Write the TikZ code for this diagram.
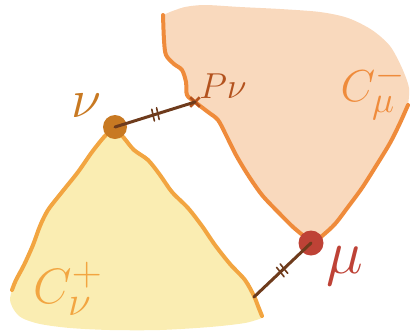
\documentclass[tikz,border=0pt]{standalone}
\usepackage{tikz}
\usetikzlibrary{positioning, shapes.misc, decorations.markings}
\definecolor{peachfill}{HTML}{F9D9BD}
\definecolor{peachline}{HTML}{EF8B3B}
\definecolor{sandfill}{HTML}{FAEDB2}
\definecolor{sandline}{HTML}{F2A541}
\definecolor{rodcol}{HTML}{6E3B1C}
\definecolor{nucol}{HTML}{C87922}
\definecolor{mucol}{HTML}{BE4236}
\definecolor{pcol}{HTML}{B3521E}
\tikzset{
  border/.style  = {line width=4pt, line cap=round, line join=round},
  pt/.style      = {circle, inner sep=0pt, minimum size=24pt},
  rod/.style     = {rodcol, line width=3pt, line cap=round,
                    postaction={decorate},
                    decoration={markings, mark=at position 0.5 with
                      {\draw[rodcol, line width=1.6pt] (-2.5pt,-6pt) -- (-1.5pt,6pt) (2.5pt,-6pt) -- (3.5pt,6pt);}}},
  lbl/.style     = {inner sep=0pt, font=\Huge}
}

\begin{document}
\begin{tikzpicture}[x=1pt, y=-1pt]
  \useasboundingbox (0,0) rectangle (410,333);

  % the two cones
  \fill[peachfill] plot[smooth] coordinates {(163,15) (164,40) (166,55) (174,64) (182,70) (186,82) (187,95) (195,102) (208,112) (218,120) (226,135) (236,155) (248,175) (262,195) (278,212) (293,227) (305,237) (312,243)}
    -- plot[smooth] coordinates {(312,243) (322,236) (335,224) (348,207) (362,188) (376,166) (390,143) (400,123) (408,105)}
    -- plot[smooth] coordinates {(408,105) (409,88) (402,68) (390,46) (372,30) (348,18) (320,12) (280,9) (240,7) (205,5) (185,7) (170,12)} -- cycle;
  \fill[sandfill] plot[smooth] coordinates {(114,127) (104,137) (92,152) (78,172) (62,192) (48,210) (40,226) (33,245) (24,265) (16,280) (12,290)}
    -- plot[smooth] coordinates {(12,290) (10,300) (14,310) (22,318) (40,324) (70,328) (110,330) (160,330) (210,327) (245,323) (262,318)}
    -- plot[smooth] coordinates {(262,318) (258,306) (254,296) (245,280) (230,264) (215,245) (202,226) (188,208) (172,192) (160,175) (148,160) (134,150) (124,138) (114,127)} -- cycle;

  \draw[border, peachline] plot[smooth] coordinates {(163,15) (164,40) (166,55) (174,64) (182,70) (186,82) (187,95) (195,102) (208,112) (218,120) (226,135) (236,155) (248,175) (262,195) (278,212) (293,227) (305,237) (312,243)};
  \draw[border, peachline] plot[smooth] coordinates {(312,243) (322,236) (335,224) (348,207) (362,188) (376,166) (390,143) (400,123) (408,105)};
  \draw[border, sandline] plot[smooth] coordinates {(114,127) (104,137) (92,152) (78,172) (62,192) (48,210) (40,226) (33,245) (24,265) (16,280) (12,290)};
  \draw[border, sandline] plot[smooth] coordinates {(114,127) (124,138) (134,150) (148,160) (160,175) (172,192) (188,208) (202,226) (215,245) (230,264) (245,280) (254,296) (258,306) (262,316)};

  % points
  \node[pt, fill=nucol] (nu) at (115,127) {};
  \node[pt, fill=mucol, minimum size=25pt] (mu) at (311,243) {};
  \node[cross out, draw=pcol, line width=2.5pt, minimum size=7pt, inner sep=0pt] (pnu) at (195,102) {};
  \coordinate (cnu) at (254,297);

  \draw[rod] (nu.center) -- (pnu.center);
  \draw[rod] (mu.center) -- (cnu);

  % labels
  \node[lbl, text=nucol, scale=2.2] (nulbl) at (86,106) {$\nu$};
  \node[lbl, text=pcol, scale=1.45, anchor=west] (plbl) at (199,86) {$P\nu$};
  \node[lbl, text=peachline, scale=1.8] (cmlbl) at (373,92) {$C_\mu^-$};
  \node[lbl, text=mucol, scale=2.5] (mulbl) at (345,266) {$\mu$};
  \node[lbl, text=sandline, scale=2] (cnlbl) at (68,289) {$C_\nu^+$};
\end{tikzpicture}
\end{document}
